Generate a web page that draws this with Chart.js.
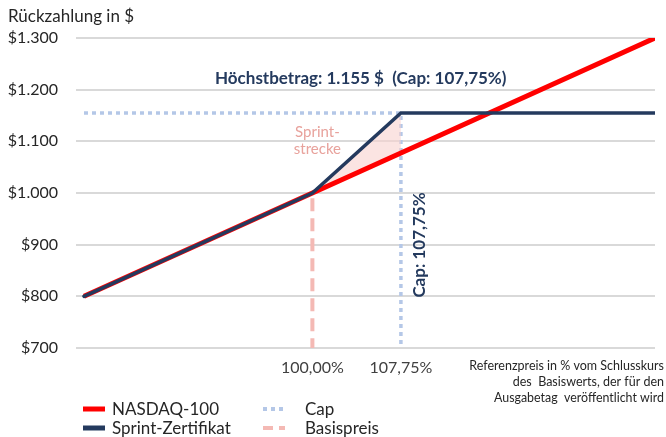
<!DOCTYPE html>
<html>
<head>
<meta charset="utf-8">
<script src="https://cdn.jsdelivr.net/npm/chart.js@4.4.1/dist/chart.umd.min.js"></script>
<style>
  html, body { margin: 0; padding: 0; background: #fff; }
  #wrap { width: 666px; height: 437px; }
</style>
</head>
<body>
<div id="wrap"><canvas id="sprint-chart"></canvas></div>
<script>
// Daten
var kursProzent = [80, 100, 107.75, 130];
var nasdaqWerte = [800, 1000, 1077.5, 1300];
var sprintWerte = [800, 1000, 1155, 1155];
var capX = [80, 107.75, 107.75];
var capY = [1155, 1155, 700];
var basisX = [100, 100];
var basisY = [990, 700];
var xTicks = [100, 107.75];
var yMin = 700, yMax = 1300, yStep = 100;

function punkte(xs, ys) {
  return xs.map(function (x, i) { return { x: x, y: ys[i] }; });
}

var navy = '#243a5e';
var rot = '#ff0000';
var hellblau = '#b4c7e7';
var rosa = '#f4b9b4';
var schrift = 'Lato, "Noto Sans", sans-serif';

// Texte und Legende
var extras = {
  id: 'extras',
  afterDraw: function (chart) {
    var ctx = chart.ctx;
    var x = chart.scales.x, y = chart.scales.y;
    ctx.save();
    ctx.textBaseline = 'middle';

    ctx.fillStyle = '#262626';
    ctx.font = '17px ' + schrift;
    ctx.textAlign = 'left';
    ctx.fillText('Rückzahlung in $', 8, 17);

    ctx.fillStyle = navy;
    ctx.font = 'bold 17px ' + schrift;
    ctx.fillText('Höchstbetrag: 1.155 $  (Cap: 107,75%)', 215, 79);

    ctx.fillStyle = '#e8a29c';
    ctx.font = '15px ' + schrift;
    ctx.textAlign = 'center';
    ctx.fillText('Sprint-', x.getPixelForValue(100) + 5, 132);
    ctx.fillText('strecke', x.getPixelForValue(100) + 5, 149);

    ctx.save();
    ctx.translate(x.getPixelForValue(107.75) + 19, 245);
    ctx.rotate(-Math.PI / 2);
    ctx.fillStyle = navy;
    ctx.font = 'bold 17px ' + schrift;
    ctx.fillText('Cap: 107,75%', 0, 0);
    ctx.restore();

    ctx.fillStyle = '#262626';
    ctx.font = '12.5px ' + schrift;
    ctx.textAlign = 'right';
    ctx.fillText('Referenzpreis in % vom Schlusskurs', 664, 366, 196);
    ctx.fillText('des  Basiswerts, der für den', 664, 382, 152);
    ctx.fillText('Ausgabetag  veröffentlicht wird', 664, 398, 170);

    var legende = [
      { text: 'NASDAQ-100', color: rot, dash: [], w: 5, lx: 83, ly: 409 },
      { text: 'Sprint-Zertifikat', color: navy, dash: [], w: 5, lx: 83, ly: 428 },
      { text: 'Cap', color: hellblau, dash: [4, 4], w: 4, lx: 263, ly: 409 },
      { text: 'Basispreis', color: rosa, dash: [10, 6], w: 4, lx: 263, ly: 428 }
    ];
    legende.forEach(function (l) {
      ctx.beginPath();
      ctx.setLineDash(l.dash);
      ctx.lineWidth = l.w;
      ctx.strokeStyle = l.color;
      ctx.moveTo(l.lx, l.ly);
      ctx.lineTo(l.lx + 22, l.ly);
      ctx.stroke();
      ctx.setLineDash([]);
      ctx.fillStyle = '#262626';
      ctx.font = '17px ' + schrift;
      ctx.textAlign = 'left';
      ctx.fillText(l.text, l.lx + (l.lx > 200 ? 42 : 29), l.ly + 1);
    });
    ctx.restore();
  }
};

var ctx = document.getElementById('sprint-chart').getContext('2d');
var chart = new Chart(ctx, {
  type: 'line',
  data: {
    datasets: [
      {
        label: 'Sprint-Zertifikat',
        data: punkte(kursProzent, sprintWerte),
        borderColor: navy,
        borderWidth: 3.5,
        pointRadius: 0,
        borderCapStyle: 'round',
        fill: false
      },
      {
        label: 'NASDAQ-100',
        data: punkte(kursProzent, nasdaqWerte),
        borderColor: rot,
        borderWidth: 5,
        pointRadius: 0,
        fill: false
      },
      {
        // Sprintstrecke oben
        label: 'fill-top',
        data: punkte(kursProzent.slice(1, 3), sprintWerte.slice(1, 3)),
        borderWidth: 0,
        pointRadius: 0,
        backgroundColor: 'rgba(248, 210, 206, 0.6)',
        fill: '+1'
      },
      {
        label: 'fill-bottom',
        data: punkte(kursProzent.slice(1, 3), nasdaqWerte.slice(1, 3)),
        borderWidth: 0,
        pointRadius: 0,
        fill: false
      },
      {
        label: 'Cap',
        data: punkte(capX, capY),
        borderColor: hellblau,
        borderWidth: 3.5,
        borderDash: [4, 4],
        pointRadius: 0,
        fill: false
      },
      {
        label: 'Basispreis',
        data: punkte(basisX, basisY),
        borderColor: rosa,
        borderWidth: 4,
        borderDash: [13, 7],
        pointRadius: 0,
        fill: false
      }
    ]
  },
  options: {
    responsive: true,
    maintainAspectRatio: false,
    animation: false,
    layout: { padding: { top: 38, right: 11, left: 0, bottom: 0 } },
    plugins: {
      legend: { display: false },
      tooltip: { enabled: false }
    },
    scales: {
      x: {
        type: 'linear',
        min: 79.3,
        max: 130,
        grid: { display: false, drawTicks: false },
        border: { display: false },
        afterBuildTicks: function (axis) {
          axis.ticks = xTicks.map(function (v) { return { value: v }; });
        },
        afterFit: function (axis) { axis.height = 89; },
        ticks: {
          autoSkip: false,
          maxRotation: 0,
          padding: 10,
          color: '#404040',
          font: { family: schrift, size: 16 },
          callback: function (v) { return v.toFixed(2).replace('.', ',') + '%'; }
        }
      },
      y: {
        min: yMin,
        max: yMax,
        grid: { color: '#d9d9d9', lineWidth: 2, drawTicks: false },
        border: { display: false },
        afterFit: function (axis) { axis.width = 76; },
        ticks: {
          stepSize: yStep,
          padding: 18,
          color: '#262626',
          font: { family: schrift, size: 16 },
          callback: function (v) {
            return '$' + String(v).replace(/\B(?=(\d{3})+(?!\d))/g, '.');
          }
        }
      }
    }
  },
  plugins: [extras]
});
</script>
</body>
</html>
